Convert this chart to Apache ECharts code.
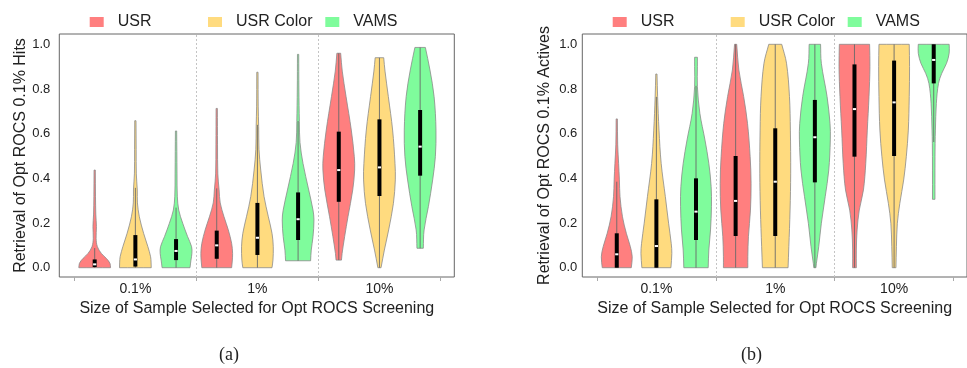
<!DOCTYPE html>
<html><head><meta charset="utf-8">
<script src="https://cdn.jsdelivr.net/npm/echarts@6/dist/echarts.min.js"></script>
<style>html,body{margin:0;padding:0;background:#fff}#c{width:967px;height:368px}</style>
</head><body><div id="c"></div>
<script>
const categories = ['0.1%', '1%', '10%'];
const seriesNames = ['USR', 'USR Color', 'VAMS'];
const seriesColors = ['#FF7F7F', '#FFDB7F', '#7FFC9C'];
const yTickValues = [0, 0.2, 0.4, 0.6, 0.8, 1.0];
const panelTitles = ['Retrieval of Opt ROCS 0.1% Hits', 'Retrieval of Opt ROCS 0.1% Actives'];
const xTitle = 'Size of Sample Selected for Opt ROCS Screening';
const captions = ['(a)', '(b)'];

// Violin profiles: [value, relative density width], one per category (0.1%, 1%, 10%)
const hitsUSR = [
  [[0,1.0],[0.02,0.96],[0.042,0.73],[0.064,0.42],[0.094,0.17],[0.13,0.09],[0.184,0.11],[0.24,0.07],[0.32,0.05],[0.437,0.04]],
  [[0,0.94],[0.03,0.98],[0.064,1.0],[0.109,0.94],[0.169,0.73],[0.228,0.46],[0.29,0.22],[0.348,0.15],[0.42,0.07],[0.55,0.05],[0.713,0.04]],
  [[0.034,0.17],[0.064,0.21],[0.139,0.37],[0.228,0.58],[0.348,0.88],[0.437,1.0],[0.497,0.98],[0.616,0.79],[0.766,0.46],[0.88,0.22],[0.96,0.12]]
];
const hitsUSRColor = [
  [[0,1.0],[0.025,0.99],[0.049,0.96],[0.094,0.79],[0.154,0.52],[0.228,0.25],[0.29,0.13],[0.348,0.12],[0.42,0.06],[0.53,0.05],[0.658,0.04]],
  [[0,0.92],[0.034,0.98],[0.094,1.0],[0.154,0.92],[0.228,0.69],[0.318,0.42],[0.437,0.21],[0.53,0.1],[0.631,0.08],[0.72,0.05],[0.875,0.04]],
  [[0,0.1],[0.079,0.31],[0.169,0.58],[0.288,0.88],[0.393,1.0],[0.467,0.98],[0.616,0.83],[0.766,0.56],[0.88,0.35],[0.94,0.27]]
];
const hitsVAMS = [
  [[0,0.88],[0.034,0.94],[0.064,1.0],[0.094,0.98],[0.139,0.73],[0.199,0.42],[0.258,0.17],[0.32,0.08],[0.42,0.06],[0.52,0.05],[0.612,0.04]],
  [[0.031,0.79],[0.079,0.83],[0.139,0.94],[0.214,1.0],[0.258,0.94],[0.348,0.67],[0.467,0.31],[0.56,0.12],[0.654,0.08],[0.8,0.05],[0.955,0.04]],
  [[0.087,0.2],[0.169,0.25],[0.273,0.52],[0.393,0.79],[0.497,0.96],[0.616,1.0],[0.766,0.88],[0.885,0.62],[0.986,0.33]]
];
const activesUSR = [
  [[0,0.94],[0.049,1.0],[0.094,0.88],[0.154,0.62],[0.228,0.37],[0.318,0.21],[0.393,0.17],[0.467,0.12],[0.55,0.06],[0.666,0.04]],
  [[0,0.79],[0.049,0.79],[0.139,0.83],[0.258,0.96],[0.378,1.0],[0.497,0.94],[0.646,0.77],[0.766,0.52],[0.885,0.21],[1.0,0.07]],
  [[0,0.12],[0.079,0.12],[0.169,0.17],[0.258,0.31],[0.348,0.58],[0.467,0.73],[0.616,0.83],[0.766,0.94],[0.9,1.0],[1.0,0.98]]
];
const activesUSRColor = [
  [[0,0.94],[0.064,1.0],[0.109,0.96],[0.199,0.79],[0.318,0.58],[0.467,0.31],[0.616,0.17],[0.766,0.08],[0.867,0.04]],
  [[0,0.83],[0.094,0.88],[0.258,0.96],[0.423,1.0],[0.616,0.98],[0.766,0.92],[0.915,0.73],[1.0,0.42]],
  [[0,0.12],[0.094,0.15],[0.199,0.21],[0.288,0.37],[0.393,0.62],[0.497,0.79],[0.616,0.92],[0.766,0.98],[0.9,1.0],[1.0,0.98]]
];
const activesVAMS = [
  [[0,0.79],[0.079,0.83],[0.169,0.94],[0.273,1.0],[0.363,0.98],[0.467,0.83],[0.572,0.58],[0.691,0.25],[0.81,0.09],[0.9,0.09],[0.942,0.09]],
  [[0,0.07],[0.02,0.1],[0.094,0.25],[0.199,0.42],[0.318,0.67],[0.437,0.9],[0.572,1.0],[0.646,0.98],[0.766,0.79],[0.915,0.42],[1.0,0.37]],
  [[0.306,0.08],[0.437,0.08],[0.557,0.09],[0.616,0.11],[0.736,0.17],[0.825,0.31],[0.87,0.52],[0.915,0.83],[0.96,1.0],[1.0,1.0]]
];

// Box stats: [q1, median, q3]
const hitsUSRBox = [[0.003,0.015,0.037],[0.04,0.1,0.166],[0.295,0.437,0.609]];
const hitsUSRColorBox = [[0.005,0.037,0.146],[0.057,0.134,0.29],[0.321,0.449,0.664]];
const hitsVAMSBox = [[0.034,0.075,0.128],[0.124,0.217,0.337],[0.412,0.542,0.706]];
const activesUSRBox = [[0,0.06,0.154],[0.142,0.299,0.5],[0.497,0.71,0.91]];
const activesUSRColorBox = [[0,0.097,0.306],[0.142,0.385,0.624],[0.5,0.74,0.927]];
const activesVAMSBox = [[0.124,0.251,0.4],[0.382,0.584,0.751],[0.825,0.93,1.0]];

const panels = [
  { profiles: [hitsUSR, hitsUSRColor, hitsVAMS], boxes: [hitsUSRBox, hitsUSRColorBox, hitsVAMSBox] },
  { profiles: [activesUSR, activesUSRColor, activesVAMS], boxes: [activesUSRBox, activesUSRColorBox, activesVAMSBox] }
];

const FONT = 'Liberation Sans, Arial, Helvetica, sans-serif';
const TXT = '#222';
const gridLefts = [59.3, 582.3];
const gridW = 395, gridTop = 34, gridH = 243;
const xMin = 0.13, xMax = 9.84;
const yMin = -0.0416, yMax = 1.0461;
const nG = categories.length, nS = seriesNames.length;
const bounds = Array.from({length: nG + 1}, (_, k) => k * nS + 0.5);
const centers = categories.map((_, g) => g * nS + (nS + 1) / 2);

function makeRender(profiles, boxes) {
  return function (params, api) {
    const x = api.value(0), g = api.value(1);
    const prof = profiles[g], box = boxes[g];
    const unit = api.size([1, 0])[0];
    const hw = 0.39 * unit;
    const c = api.coord([x, 0])[0];
    const right = prof.map(p => [c + p[1] * hw, api.coord([x, p[0]])[1]]);
    const left = prof.map(p => [c - p[1] * hw, api.coord([x, p[0]])[1]]).reverse();
    const n = right.length - 1;
    const pts = [right[0], ...right, right[n], left[0], ...left, left[n]];
    const q1 = box[0], med = box[1], q3 = box[2], iqr = q3 - q1;
    const lo = Math.max(prof[0][0], q1 - 1.5 * iqr);
    const hi = Math.min(prof[n][0], q3 + 1.5 * iqr);
    const yLo = api.coord([x, lo])[1], yHi = api.coord([x, hi])[1];
    const yQ1 = api.coord([x, q1])[1], yQ3 = api.coord([x, q3])[1], yMed = api.coord([x, med])[1];
    return {
      type: 'group',
      children: [
        { type: 'polygon', shape: { points: pts, smooth: 0.35 },
          style: { fill: api.visual('color'), stroke: '#8a8a8a', lineWidth: 0.8 } },
        { type: 'line', shape: { x1: c, y1: yLo, x2: c, y2: yHi },
          style: { stroke: '#6a6a6a', lineWidth: 0.9 } },
        { type: 'rect', shape: { x: c - 2, y: yQ3, width: 4, height: Math.max(yQ1 - yQ3, 1) },
          style: { fill: '#000' } },
        { type: 'rect', shape: { x: c - 1.6, y: yMed - 1, width: 3.2, height: 2 },
          style: { fill: '#fff' } }
      ]
    };
  };
}

const grids = [], xAxes = [], yAxes = [], series = [], legends = [];
const legendLefts = [[89.7, 208, 325.3], [612.7, 730.7, 847.7]];
const yLabelMargins = [9, 5];

panels.forEach((panel, p) => {
  grids.push({ left: gridLefts[p], top: gridTop, width: gridW, height: gridH,
    show: true, borderColor: '#666', borderWidth: 1, backgroundColor: 'transparent' });
  xAxes.push({
    type: 'value', gridIndex: p, min: xMin, max: xMax,
    axisLine: { show: false, onZero: false },
    axisTick: { show: true, customValues: bounds, length: 4, lineStyle: { color: '#aaa' } },
    axisLabel: { customValues: centers, margin: 5, fontSize: 14, color: TXT, fontFamily: FONT,
      formatter: v => categories[Math.round((v - (nS + 1) / 2) / nS)] },
    splitLine: { show: false },
    name: xTitle, nameLocation: 'middle', nameGap: 24,
    nameTextStyle: { fontSize: 16, color: TXT, fontFamily: FONT }
  });
  yAxes.push({
    type: 'value', gridIndex: p, min: yMin, max: yMax,
    axisLine: { show: false, onZero: false },
    axisTick: { show: false },
    axisLabel: { customValues: yTickValues, margin: yLabelMargins[p], fontSize: 13, color: TXT, fontFamily: FONT,
      formatter: v => v.toFixed(1) },
    splitLine: { show: false },
    name: panelTitles[p], nameLocation: 'middle', nameGap: 30, nameRotate: 90,
    nameTextStyle: { fontSize: 16, color: TXT, fontFamily: FONT }
  });
  seriesNames.forEach((name, s) => {
    const ser = {
      type: 'custom', name: name, xAxisIndex: p, yAxisIndex: p,
      itemStyle: { color: seriesColors[s] },
      data: categories.map((_, g) => [g * nS + s + 1, g]),
      renderItem: makeRender(panel.profiles[s], panel.boxes[s]),
      silent: true
    };
    if (s === 0) {
      ser.markLine = { silent: true, symbol: 'none', label: { show: false },
        lineStyle: { type: [2, 2], color: '#c4c4c4', width: 1 },
        data: bounds.slice(1, -1).map(b => ({ xAxis: b })) };
    }
    series.push(ser);
    legends.push({
      data: [name], left: legendLefts[p][s], top: 13, padding: 0,
      icon: 'rect', itemWidth: 14, itemHeight: 10, selectedMode: false,
      textStyle: { fontSize: 16, color: TXT, fontFamily: FONT, lineHeight: 18, padding: [0, 0, 0, 9] }
    });
  });
});

const chart = echarts.init(document.getElementById('c'), null, { renderer: 'canvas' });
chart.setOption({
  animation: false,
  backgroundColor: '#fff',
  grid: grids, xAxis: xAxes, yAxis: yAxes, series: series, legend: legends,
  graphic: [
    { type: 'text', left: 230 - 11, top: 346, style: { text: captions[0], font: '18px "Liberation Serif", "DejaVu Serif", serif', fill: TXT } },
    { type: 'text', left: 752 - 11, top: 346, style: { text: captions[1], font: '18px "Liberation Serif", "DejaVu Serif", serif', fill: TXT } }
  ]
});
</script></body></html>
